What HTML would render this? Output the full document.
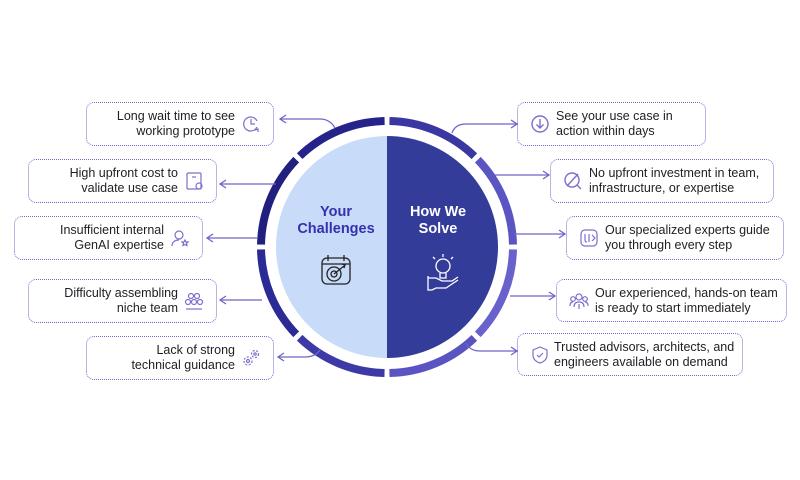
<!DOCTYPE html>
<html><head><meta charset="utf-8"><style>
body{margin:0;width:800px;height:480px;background:#fff;position:relative;overflow:hidden;font-family:"Liberation Sans",sans-serif;}
.b{position:absolute;border:1.4px dotted #7468c8;border-radius:8px;box-sizing:border-box;font-size:12.5px;line-height:15px;color:#1e1e24;display:flex;align-items:center;}
.l{justify-content:flex-end;text-align:right;padding-right:38px;}
.r{padding-left:38px;}
.b svg{position:absolute;top:50%;margin-top:-10px;}
.l svg{right:12px}.r svg{left:12px}
.t{position:absolute;font-weight:bold;font-size:14.5px;line-height:17px;text-align:center;width:110px;}
</style></head><body>
<svg width="800" height="480" style="position:absolute;left:0;top:0">
<defs><marker id="a" markerWidth="10" markerHeight="10" refX="8" refY="5" orient="auto" markerUnits="userSpaceOnUse"><path d="M2,1 L8,5 L2,9" fill="none" stroke="#6e66c8" stroke-width="1.3"/></marker></defs>
<path d="M387,136 A111,111 0 0 0 387,358 Z" fill="#c8dbf8"/>
<path d="M387,136 A111,111 0 0 1 387,358 Z" fill="#343c9a"/>
<g fill="none" stroke-width="8" transform="translate(387,247)">
<circle r="126" stroke="#6a62cc" stroke-dasharray="94 697.7" stroke-dashoffset="-2.5" transform="rotate(0)"/>
<circle r="126" stroke="#5a54c2" stroke-dasharray="94 697.7" stroke-dashoffset="-2.5" transform="rotate(45)"/>
<circle r="126" stroke="#3d3aa8" stroke-dasharray="94 697.7" stroke-dashoffset="-2.5" transform="rotate(90)"/>
<circle r="126" stroke="#2c2a95" stroke-dasharray="94 697.7" stroke-dashoffset="-2.5" transform="rotate(135)"/>
<circle r="126" stroke="#22207f" stroke-dasharray="94 697.7" stroke-dashoffset="-2.5" transform="rotate(180)"/>
<circle r="126" stroke="#25238a" stroke-dasharray="94 697.7" stroke-dashoffset="-2.5" transform="rotate(225)"/>
<circle r="126" stroke="#3a37a2" stroke-dasharray="94 697.7" stroke-dashoffset="-2.5" transform="rotate(270)"/>
<circle r="126" stroke="#5b55c4" stroke-dasharray="94 697.7" stroke-dashoffset="-2.5" transform="rotate(315)"/>
</g>
<g fill="none" stroke="#6e66c8" stroke-width="1.3" marker-end="url(#a)">
<path d="M335,128 Q330,119 320,119 L280,119"/>
<path d="M276,184 L220,184"/>
<path d="M258,238 L207,238"/>
<path d="M262,300 L220,300"/>
<path d="M320,350 Q315,357 305,357 L278,357"/>
<path d="M452,133 Q455,124 466,124 L517,124"/>
<path d="M495,175 L549,175"/>
<path d="M514,234 L565,234"/>
<path d="M510,296 L555,296"/>
<path d="M466,343 Q470,351 480,351 L517,351"/>
</g>
<g fill="none" stroke="#222" stroke-width="1.3">
<rect x="322" y="258" width="28" height="26" rx="5"/><path d="M328,255v6M344,255v6M322,264h28"/>
<circle cx="334" cy="274" r="7"/><circle cx="334" cy="274" r="3"/><path d="M334,274l10,-8M342,264l3,1-1,3"/>
</g>
<g fill="none" stroke="#fff" stroke-width="1.3">
<circle cx="443" cy="266" r="7"/><path d="M440,273v5h6v-5M433,257l2,2M443,254v3M453,257l-2,2"/>
<path d="M428,278h8l6,3h10l6-4M428,276v14h4l4-2h10l12-8"/>
</g>
</svg>
<div class="t" style="left:281px;top:204px;color:#3430b0">Your<br>Challenges</div>
<div class="t" style="left:383px;top:204px;color:#fff">How We<br>Solve</div>

<div class="b l" style="left:86px;top:102px;width:188px;height:44px">Long wait time to see<br>working prototype<svg width="20" height="20"><g fill="none" stroke="#7c70cc" stroke-width="1.2"><path d="M16,13A7,7 0 1 1 16,7"/><path d="M10,5v5h4M14,16l3,-1 0,3"/></g></svg></div>
<div class="b l" style="left:28px;top:159px;width:189px;height:44px">High upfront cost to<br>validate use case<svg width="20" height="20"><g fill="none" stroke="#7c70cc" stroke-width="1.2"><rect x="3" y="2" width="14" height="16" rx="1"/><path d="M8,6h4"/><circle cx="15" cy="15" r="3"/></g></svg></div>
<div class="b l" style="left:14px;top:216px;width:189px;height:44px">Insufficient internal<br>GenAI expertise<svg width="20" height="20"><g fill="none" stroke="#7c70cc" stroke-width="1.2"><circle cx="9" cy="7" r="4"/><path d="M2,18c0-4 3-6 7-6M15,12l1,2 2,0-1.5,1.5 .5,2-2-1-2,1 .5-2-1.5-1.5 2,0z"/></g></svg></div>
<div class="b l" style="left:28px;top:279px;width:189px;height:44px">Difficulty assembling<br>niche team<svg width="20" height="20"><g fill="none" stroke="#7c70cc" stroke-width="1.2"><circle cx="7" cy="5" r="2.5"/><circle cx="13" cy="5" r="2.5"/><circle cx="4" cy="11" r="2.5"/><circle cx="10" cy="11" r="2.5"/><circle cx="16" cy="11" r="2.5"/><path d="M2,18h16"/></g></svg></div>
<div class="b l" style="left:86px;top:336px;width:188px;height:44px">Lack of strong<br>technical guidance<svg width="20" height="20"><g fill="none" stroke="#7c70cc" stroke-width="1.2"><circle cx="7" cy="13" r="4" stroke-dasharray="2 1.5"/><circle cx="7" cy="13" r="1.5"/><circle cx="14" cy="6" r="3.5" stroke-dasharray="2 1.5"/><circle cx="14" cy="6" r="1.2"/></g></svg></div>

<div class="b r" style="left:517px;top:102px;width:189px;height:44px">See your use case in<br>action within days<svg width="20" height="20"><g fill="none" stroke="#7c70cc" stroke-width="1.4"><circle cx="10" cy="10" r="8"/><path d="M10,5v9M6.5,10.5l3.5,3.5 3.5-3.5"/></g></svg></div>
<div class="b r" style="left:550px;top:159px;width:224px;height:44px">No upfront investment in team,<br>infrastructure, or expertise<svg width="20" height="20"><g fill="none" stroke="#7c70cc" stroke-width="1.4"><circle cx="9" cy="9" r="7"/><path d="M14,14l4,4M4,15L15,3"/></g></svg></div>
<div class="b r" style="left:566px;top:216px;width:218px;height:44px">Our specialized experts guide<br>you through every step<svg width="20" height="20"><g fill="none" stroke="#7c70cc" stroke-width="1.2"><rect x="2" y="2" width="16" height="16" rx="4"/><path d="M6,6v6q0,2 2,2M10,6v8M13,7l3,3-3,3"/></g></svg></div>
<div class="b r" style="left:556px;top:279px;width:231px;height:43px">Our experienced, hands-on team<br>is ready to start immediately<svg width="20" height="20"><g fill="none" stroke="#7c70cc" stroke-width="1.2"><circle cx="10" cy="6" r="3"/><circle cx="4" cy="8" r="2.3"/><circle cx="16" cy="8" r="2.3"/><path d="M5,16q0-5 5-5 5,0 5,5M1,15q0-4 3-4M19,15q0-4-3-4M10,13v5"/></g></svg></div>
<div class="b r" style="left:517px;top:333px;width:226px;height:43px;padding-left:36px">Trusted advisors, architects, and<br>engineers available on demand<svg width="20" height="20"><g fill="none" stroke="#7c70cc" stroke-width="1.2"><path d="M10,2l7,3v5c0,4-3,7-7,8-4-1-7-4-7-8V5z"/><path d="M7,10l2,2 4-4"/></g></svg></div>
</body></html>
